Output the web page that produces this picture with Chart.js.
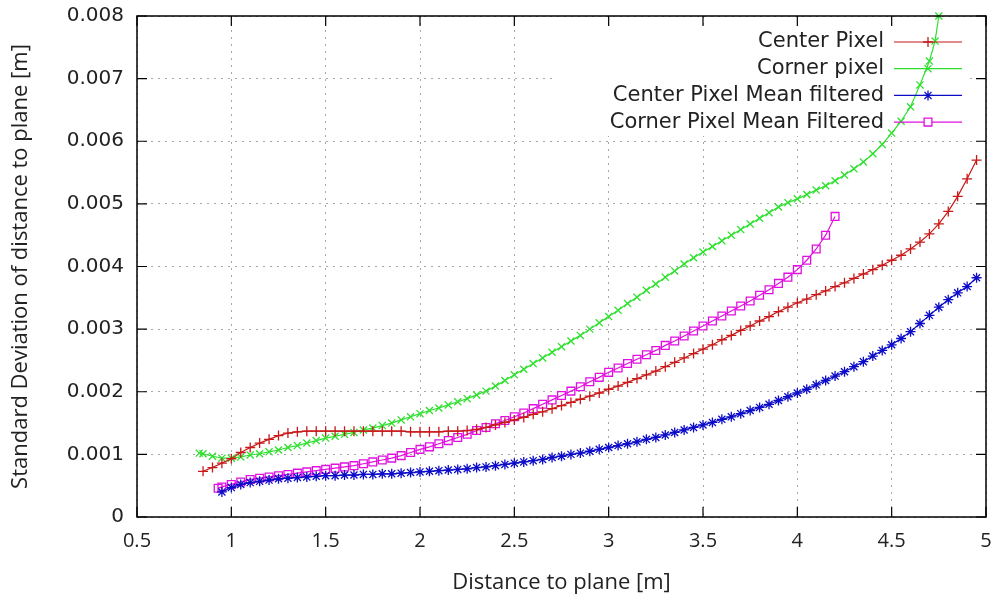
<!DOCTYPE html>
<html>
<head>
<meta charset="utf-8">
<script src="https://cdn.jsdelivr.net/npm/chart.js@4/dist/chart.umd.min.js"></script>
<style>
  html, body { margin: 0; padding: 0; background: #fff; }
</style>
</head>
<body>
<canvas id="plot" width="997" height="600"></canvas>
<script>
// Дані
const xTicks = [0.5, 1, 1.5, 2, 2.5, 3, 3.5, 4, 4.5, 5];
const yTicks = [0, 0.001, 0.002, 0.003, 0.004, 0.005, 0.006, 0.007, 0.008];

const seriesNames = ['Center Pixel', 'Corner pixel', 'Center Pixel Mean filtered', 'Corner Pixel Mean Filtered'];

const centerX = [0.85, 0.9, 0.95, 1.0, 1.05, 1.1, 1.15, 1.2, 1.25, 1.3, 1.35, 1.4, 1.45, 1.5, 1.55, 1.6, 1.65, 1.7, 1.75, 1.8, 1.85, 1.9, 1.95, 2.0, 2.05, 2.1, 2.15, 2.2, 2.25, 2.3, 2.35, 2.4, 2.45, 2.5, 2.55, 2.6, 2.65, 2.7, 2.75, 2.8, 2.85, 2.9, 2.95, 3.0, 3.05, 3.1, 3.15, 3.2, 3.25, 3.3, 3.35, 3.4, 3.45, 3.5, 3.55, 3.6, 3.65, 3.7, 3.75, 3.8, 3.85, 3.9, 3.95, 4.0, 4.05, 4.1, 4.15, 4.2, 4.25, 4.3, 4.35, 4.4, 4.45, 4.5, 4.55, 4.6, 4.65, 4.7, 4.75, 4.8, 4.85, 4.9, 4.95];
const centerY = [0.00073, 0.00079, 0.00086, 0.00093, 0.00103, 0.00111, 0.00118, 0.00124, 0.0013, 0.00134, 0.00136, 0.00137, 0.00137, 0.00137, 0.00137, 0.00137, 0.00137, 0.00137, 0.00137, 0.00137, 0.00137, 0.00137, 0.00136, 0.00136, 0.00136, 0.00136, 0.00137, 0.00137, 0.00138, 0.0014, 0.00143, 0.00147, 0.00151, 0.00155, 0.00159, 0.00164, 0.00168, 0.00173, 0.00178, 0.00183, 0.00188, 0.00193, 0.00198, 0.00204, 0.00209, 0.00215, 0.00221, 0.00227, 0.00233, 0.0024, 0.00247, 0.00254, 0.00261, 0.00268, 0.00275, 0.00283, 0.0029, 0.00298, 0.00305, 0.00313, 0.0032, 0.00328, 0.00335, 0.00342, 0.00348, 0.00355, 0.00361, 0.00368, 0.00374, 0.00381, 0.00388, 0.00395, 0.00402, 0.0041, 0.00418, 0.00428, 0.00439, 0.00452, 0.00468, 0.00488, 0.00512, 0.0054, 0.0057];

const cornerX = [0.83, 0.85, 0.9, 0.95, 1.0, 1.05, 1.1, 1.15, 1.2, 1.25, 1.3, 1.35, 1.4, 1.45, 1.5, 1.55, 1.6, 1.65, 1.7, 1.75, 1.8, 1.85, 1.9, 1.95, 2.0, 2.05, 2.1, 2.15, 2.2, 2.25, 2.3, 2.35, 2.4, 2.45, 2.5, 2.55, 2.6, 2.65, 2.7, 2.75, 2.8, 2.85, 2.9, 2.95, 3.0, 3.05, 3.1, 3.15, 3.2, 3.25, 3.3, 3.35, 3.4, 3.45, 3.5, 3.55, 3.6, 3.65, 3.7, 3.75, 3.8, 3.85, 3.9, 3.95, 4.0, 4.05, 4.1, 4.15, 4.2, 4.25, 4.3, 4.35, 4.4, 4.45, 4.5, 4.55, 4.6, 4.65, 4.7, 4.73, 4.75];
const cornerY = [0.00102, 0.00101, 0.00097, 0.00094, 0.00094, 0.00096, 0.00099, 0.00101, 0.00104, 0.00107, 0.00111, 0.00114, 0.00118, 0.00122, 0.00126, 0.00129, 0.00132, 0.00135, 0.00139, 0.00142, 0.00146, 0.0015, 0.00155, 0.0016, 0.00165, 0.0017, 0.00174, 0.00179, 0.00184, 0.00189, 0.00195, 0.00201, 0.00209, 0.00218, 0.00227, 0.00236, 0.00245, 0.00254, 0.00263, 0.00272, 0.00281, 0.0029, 0.003, 0.0031, 0.0032, 0.0033, 0.00341, 0.00351, 0.00362, 0.00372, 0.00383, 0.00393, 0.00404, 0.00414, 0.00423, 0.00432, 0.00441, 0.0045, 0.00459, 0.00468, 0.00477, 0.00486, 0.00495, 0.00502, 0.00508, 0.00515, 0.00522, 0.00529, 0.00537, 0.00546, 0.00556, 0.00567, 0.0058, 0.00595, 0.00613, 0.00632, 0.00655, 0.0069, 0.00728, 0.0076, 0.008];

const centerMeanX = [0.95, 1.0, 1.05, 1.1, 1.15, 1.2, 1.25, 1.3, 1.35, 1.4, 1.45, 1.5, 1.55, 1.6, 1.65, 1.7, 1.75, 1.8, 1.85, 1.9, 1.95, 2.0, 2.05, 2.1, 2.15, 2.2, 2.25, 2.3, 2.35, 2.4, 2.45, 2.5, 2.55, 2.6, 2.65, 2.7, 2.75, 2.8, 2.85, 2.9, 2.95, 3.0, 3.05, 3.1, 3.15, 3.2, 3.25, 3.3, 3.35, 3.4, 3.45, 3.5, 3.55, 3.6, 3.65, 3.7, 3.75, 3.8, 3.85, 3.9, 3.95, 4.0, 4.05, 4.1, 4.15, 4.2, 4.25, 4.3, 4.35, 4.4, 4.45, 4.5, 4.55, 4.6, 4.65, 4.7, 4.75, 4.8, 4.85, 4.9, 4.95];
const centerMeanY = [0.0004, 0.00047, 0.00052, 0.00055, 0.00057, 0.00059, 0.00061, 0.00062, 0.00063, 0.00064, 0.00065, 0.00066, 0.00066, 0.00067, 0.00067, 0.00068, 0.00068, 0.00069, 0.00069, 0.0007, 0.00071, 0.00072, 0.00073, 0.00074, 0.00075, 0.00076, 0.00077, 0.00079, 0.0008, 0.00082, 0.00084, 0.00086, 0.00088, 0.0009, 0.00092, 0.00095, 0.00097, 0.001, 0.00102, 0.00105, 0.00108, 0.00111, 0.00114, 0.00117, 0.0012, 0.00124, 0.00127, 0.00131, 0.00135, 0.00139, 0.00143, 0.00147, 0.00151, 0.00156, 0.0016, 0.00165, 0.0017, 0.00175, 0.0018, 0.00186, 0.00192, 0.00198, 0.00204, 0.00211, 0.00218, 0.00225, 0.00232, 0.0024, 0.00248, 0.00257, 0.00266, 0.00275, 0.00285, 0.00296, 0.00309, 0.00322, 0.00335, 0.00347, 0.00358, 0.00368, 0.00382];

const cornerMeanX = [0.93, 0.95, 1.0, 1.05, 1.1, 1.15, 1.2, 1.25, 1.3, 1.35, 1.4, 1.45, 1.5, 1.55, 1.6, 1.65, 1.7, 1.75, 1.8, 1.85, 1.9, 1.95, 2.0, 2.05, 2.1, 2.15, 2.2, 2.25, 2.3, 2.35, 2.4, 2.45, 2.5, 2.55, 2.6, 2.65, 2.7, 2.75, 2.8, 2.85, 2.9, 2.95, 3.0, 3.05, 3.1, 3.15, 3.2, 3.25, 3.3, 3.35, 3.4, 3.45, 3.5, 3.55, 3.6, 3.65, 3.7, 3.75, 3.8, 3.85, 3.9, 3.95, 4.0, 4.05, 4.1, 4.15, 4.2];
const cornerMeanY = [0.00046, 0.00048, 0.00052, 0.00056, 0.0006, 0.00062, 0.00064, 0.00066, 0.00068, 0.0007, 0.00072, 0.00074, 0.00076, 0.00078, 0.0008, 0.00082, 0.00085, 0.00088, 0.00091, 0.00094, 0.00098, 0.00103, 0.00108, 0.00112, 0.00117, 0.00122, 0.00127, 0.00132, 0.00138, 0.00143, 0.00149, 0.00154, 0.0016, 0.00166, 0.00173, 0.0018, 0.00187, 0.00194, 0.00201, 0.00208, 0.00216, 0.00223, 0.00231, 0.00238, 0.00245, 0.00252, 0.00259, 0.00266, 0.00274, 0.00281, 0.00289, 0.00297, 0.00305, 0.00313, 0.00321, 0.00329, 0.00337, 0.00345, 0.00354, 0.00363, 0.00373, 0.00383, 0.00395, 0.0041, 0.00428, 0.0045, 0.0048];

const colors = ['#c81818', '#2ee02e', '#0c0cc8', '#e010e0'];
const styles = ['cross', 'crossRot', 'star', 'rect'];
const radii = [5, 5, 5, 5.5];

const FONT = 'DejaVu Sans';
const FONT_AXIS = '"Open Sans"';

function toPoints(xs, ys) {
  return xs.map((x, i) => ({ x: x, y: ys[i] }));
}

const seriesData = [
  toPoints(centerX, centerY),
  toPoints(cornerX, cornerY),
  toPoints(centerMeanX, centerMeanY),
  toPoints(cornerMeanX, cornerMeanY)
];

// Рамка, внутрішні засічки та легенда як у gnuplot
const gnuplotLook = {
  id: 'gnuplotLook',
  beforeDatasetsDraw(chart) {
    const ctx = chart.ctx;
    ctx.save();
    ctx.fillStyle = '#fff';
    ctx.fillRect(553, 26, 417, 110);
    ctx.restore();
  },
  afterDatasetsDraw(chart) {
    const { ctx, chartArea: a, scales } = chart;
    ctx.save();
    ctx.strokeStyle = '#000';
    ctx.lineWidth = 1.5;
    ctx.strokeRect(a.left, a.top, a.right - a.left, a.bottom - a.top);
    ctx.lineWidth = 1.2;
    ctx.beginPath();
    xTicks.forEach(v => {
      const px = scales.x.getPixelForValue(v);
      ctx.moveTo(px, a.bottom); ctx.lineTo(px, a.bottom - 10);
      ctx.moveTo(px, a.top); ctx.lineTo(px, a.top + 10);
    });
    yTicks.forEach(v => {
      const py = scales.y.getPixelForValue(v);
      ctx.moveTo(a.left, py); ctx.lineTo(a.left + 10, py);
      ctx.moveTo(a.right, py); ctx.lineTo(a.right - 10, py);
    });
    ctx.stroke();
    ctx.restore();
  },
  afterDraw(chart) {
    const ctx = chart.ctx;
    ctx.save();
    ctx.font = '21px "' + FONT + '"';
    ctx.textAlign = 'right';
    ctx.textBaseline = 'middle';
    seriesNames.forEach((name, i) => {
      const y = 42 + i * 26.7;
      ctx.fillStyle = '#222';
      ctx.fillText(name, 884, y);
      ctx.strokeStyle = colors[i];
      ctx.lineWidth = 1.2;
      ctx.beginPath();
      ctx.moveTo(894, y); ctx.lineTo(962, y);
      ctx.stroke();
      ctx.fillStyle = '#fff';
      ctx.lineWidth = 1.3;
      Chart.helpers.drawPoint(ctx, { pointStyle: styles[i], rotation: 0, radius: radii[i], borderWidth: 1.3 }, 928, y);
    });
    ctx.restore();
  }
};

new Chart(document.getElementById('plot'), {
  type: 'scatter',
  data: {
    datasets: seriesData.map((pts, i) => ({
      label: seriesNames[i],
      data: pts,
      showLine: true,
      borderColor: colors[i],
      borderWidth: 1.2,
      pointStyle: styles[i],
      pointRadius: radii[i],
      pointBorderWidth: 1.3,
      pointBorderColor: colors[i],
      pointBackgroundColor: 'rgba(255,255,255,0)',
      tension: 0,
      clip: 8
    }))
  },
  options: {
    responsive: false,
    animation: false,
    layout: { padding: { top: 16, right: 11, left: 0, bottom: 0 } },
    plugins: {
      legend: { display: false },
      tooltip: { enabled: false },
      title: { display: false }
    },
    scales: {
      x: {
        type: 'linear',
        min: 0.5,
        max: 5,
        afterBuildTicks: s => { s.ticks = xTicks.map(v => ({ value: v })); },
        afterFit: s => { s.height = 83; s.paddingLeft = 0; s.paddingRight = 0; },
        ticks: {
          callback: v => String(+Number(v).toFixed(1)),
          font: { family: FONT_AXIS, size: 20 },
          color: '#222',
          padding: 12,
          maxRotation: 0
        },
        grid: { drawTicks: false, color: '#a8a8a8', lineWidth: 1 },
        border: { display: false, dash: [2, 5] },
        title: {
          display: true,
          text: 'Distance to plane [m]',
          font: { family: FONT_AXIS, size: 22 },
          color: '#222',
          padding: { top: 4, bottom: 4 }
        }
      },
      y: {
        type: 'linear',
        min: 0,
        max: 0.008,
        afterBuildTicks: s => { s.ticks = yTicks.map(v => ({ value: v })); },
        afterFit: s => { s.width = 137; s.paddingTop = 0; s.paddingBottom = 0; },
        ticks: {
          callback: v => (v === 0 ? '0' : Number(v).toFixed(3)),
          font: { family: FONT, size: 20 },
          color: '#222',
          padding: 13
        },
        grid: { drawTicks: false, color: '#a8a8a8', lineWidth: 1 },
        border: { display: false, dash: [2, 5] },
        title: {
          display: true,
          text: 'Standard Deviation of distance to plane [m]',
          font: { family: FONT_AXIS, size: 22 },
          color: '#222',
          padding: { top: 8, bottom: 0 }
        }
      }
    }
  },
  plugins: [gnuplotLook]
});
</script>
</body>
</html>
